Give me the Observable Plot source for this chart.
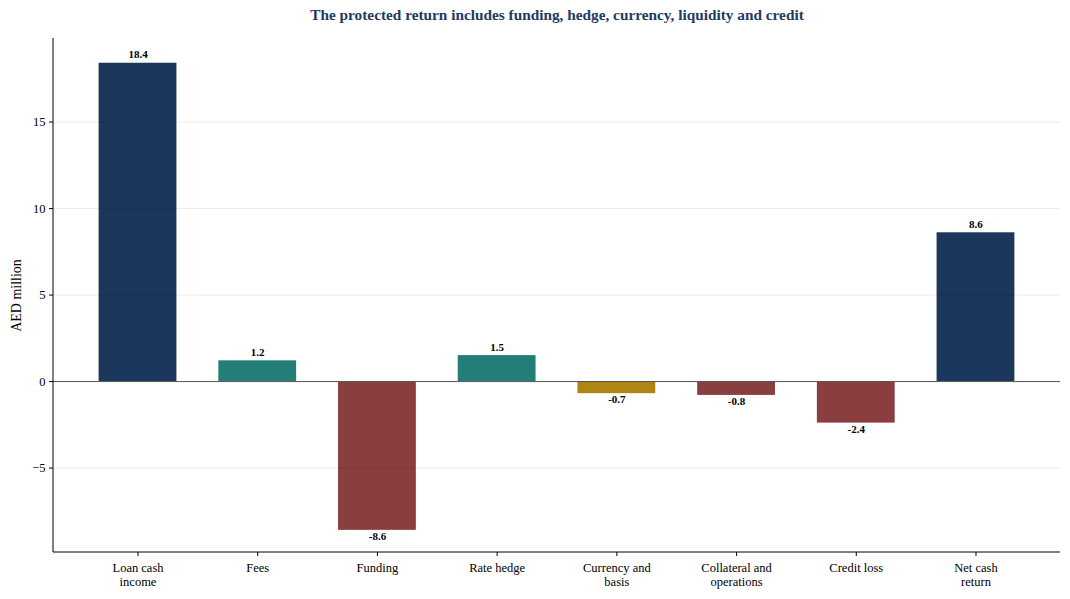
<!DOCTYPE html>
<html>
<head>
<meta charset="utf-8">
<script src="https://cdn.jsdelivr.net/npm/d3@7"></script>
<script src="https://cdn.jsdelivr.net/npm/@observablehq/plot@0.6"></script>
<style>
  html, body { margin: 0; padding: 0; background: #fff; }
  #chart { width: 1070px; height: 599px; }
  #chart svg, #chart svg text { font-family: 'Liberation Serif', 'DejaVu Serif', serif !important; }
</style>
</head>
<body>
<div id="chart"></div>
<script>
const categories = ["Loan cash\nincome", "Fees", "Funding", "Rate hedge", "Currency and\nbasis", "Collateral and\noperations", "Credit loss", "Net cash\nreturn"];
const values = [18.4, 1.2, -8.6, 1.5, -0.7, -0.8, -2.4, 8.6];
const kinds = ["total", "inflow", "outflow", "inflow", "fx", "outflow", "outflow", "total"];
const yTicks = [-5, 0, 5, 10, 15];
const title = "The protected return includes funding, hedge, currency, liquidity and credit";
const yLabel = "AED million";

const data = categories.map((c, i) => ({category: c, value: values[i], kind: kinds[i]}));
const fontFamily = "'Liberation Serif', 'DejaVu Serif', serif";
const fmt = d => d < 0 ? "\u2212" + Math.abs(d) : String(d);

// left and bottom spines
const spines = (index, scales, values, dims) => {
  const g = d3.create("svg:g").attr("stroke", "#000").attr("stroke-width", 1).attr("fill", "none");
  const x0 = dims.marginLeft, x1 = dims.width - dims.marginRight;
  const y0 = dims.marginTop, y1 = dims.height - dims.marginBottom;
  g.append("line").attr("x1", x0).attr("x2", x0).attr("y1", y0).attr("y2", y1);
  g.append("line").attr("x1", x0).attr("x2", x1).attr("y1", y1).attr("y2", y1);
  return g.node();
};

const chart = Plot.plot({
  width: 1070,
  height: 599,
  marginLeft: 53,
  marginRight: 10,
  marginTop: 38,
  marginBottom: 47,
  style: {fontFamily, fontSize: "12px", color: "#000", background: "#fff"},
  x: {domain: categories, paddingInner: 0.35, paddingOuter: 0.381, round: false},
  y: {domain: [-9.88, 19.83]},
  color: {domain: ["total", "inflow", "outflow", "fx"], range: ["#1c375c", "#247e78", "#8b3e3f", "#af8514"]},
  marks: [
    Plot.barY(data, {x: "category", y: "value", fill: "kind"}),
    Plot.gridY(yTicks.filter(d => d !== 0), {stroke: "#000", strokeOpacity: 0.08, strokeWidth: 1}),
    Plot.ruleY([0], {stroke: "#555", strokeWidth: 1}),
    Plot.text(data.filter(d => d.value >= 0), {x: "category", y: "value", text: d => d.value.toFixed(1), lineAnchor: "bottom", dy: -5, fontWeight: "bold", fontSize: 11, fill: "#000", fontFamily}),
    Plot.text(data.filter(d => d.value < 0), {x: "category", y: "value", text: d => d.value.toFixed(1), lineAnchor: "top", dy: 2, fontWeight: "bold", fontSize: 11, fill: "#000", fontFamily}),
    Plot.axisY({ticks: yTicks, tickFormat: fmt, tickSize: 4, tickPadding: 4, label: null, fontSize: 12.5, fontFamily}),
    Plot.axisX({tickSize: 4, tickPadding: 5, label: null, fontSize: 12.5, lineHeight: 1.15, fontFamily}),
    spines,
    Plot.text([yLabel], {frameAnchor: "left", textAnchor: "middle", rotate: -90, dx: -37, fontSize: 14, fill: "#000", fontFamily}),
    Plot.text([title], {frameAnchor: "top", dy: -29, fontSize: 15.3, fontWeight: "bold", fill: "#1f3a5f", fontFamily})
  ]
});
document.getElementById("chart").appendChild(chart);
</script>
</body>
</html>
